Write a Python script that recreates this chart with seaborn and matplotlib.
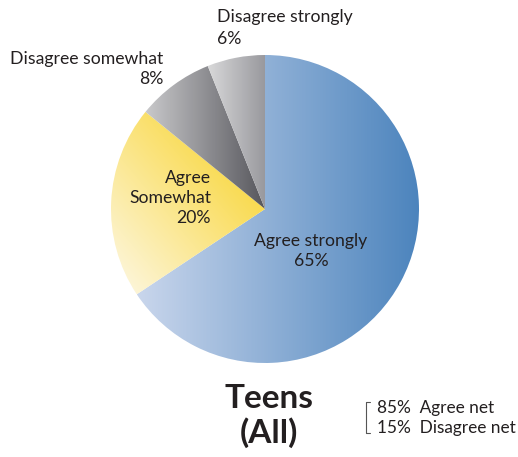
import numpy as np
import seaborn as sns
import matplotlib.pyplot as plt
from matplotlib.colors import LinearSegmentedColormap

# Data
labels = ['Agree strongly', 'Agree\nSomewhat', 'Disagree somewhat', 'Disagree strongly']
values = [65, 20, 8, 6]
net_values = [85, 15]
net_labels = ['Agree net', 'Disagree net']
title = 'Teens\n(All)'

# gradient colours per slice (light -> dark)
grad_start = ['#c9d6ec', '#fdf8e6', '#c9c9cb', '#d8d8d9']
grad_end = ['#4c84bd', '#f9d843', '#57575d', '#98989d']

sns.set_theme(style='white')
plt.rcParams['font.family'] = ['Lato', 'DejaVu Sans']
text_color = '#231f20'

fig = plt.figure(figsize=(5.18, 4.57), dpi=100)
ax = fig.add_axes([0, 0, 1, 1])

wedges, _ = ax.pie(values, startangle=90, counterclock=False,
                   center=(265, 248), radius=154, frame=True)

# fill each wedge with a gradient clipped to its shape
for i, w in enumerate(wedges):
    w.set_facecolor('none')
    w.set_edgecolor('none')
    bb = w.get_path().get_extents()
    xx, yy = np.meshgrid(np.linspace(0, 1, 200), np.linspace(0, 1, 200))
    if i == 1:
        grad = np.clip((xx + yy) / 1.6, 0, 1)  # diagonal for the yellow slice
    else:
        grad = xx
    cmap = LinearSegmentedColormap.from_list('g%d' % i, [grad_start[i], grad_end[i]])
    im = ax.imshow(grad, cmap=cmap, extent=(bb.x0, bb.x1, bb.y0, bb.y1),
                   origin='lower', aspect='auto', interpolation='bilinear')
    im.set_clip_path(w)

ax.set_xlim(0, 518)
ax.set_ylim(0, 457)
ax.axis('off')

fs = 12.7
# slice labels
ax.text(217, 440, labels[3], ha='left', va='center', fontsize=fs, color=text_color)
ax.text(217, 418, f'{values[3]}%', ha='left', va='center', fontsize=fs, color=text_color)
ax.text(163, 398, labels[2], ha='right', va='center', fontsize=fs, color=text_color)
ax.text(163, 378, f'{values[2]}%', ha='right', va='center', fontsize=fs, color=text_color)
ax.text(211, 259, labels[1] + f'\n{values[1]}%', ha='right', va='center',
        fontsize=fs, color=text_color, linespacing=1.3)
ax.text(311, 206, labels[0] + f'\n{values[0]}%', ha='center', va='center',
        fontsize=fs, color=text_color, linespacing=1.3)

# title
ax.text(269, 41, title, ha='center', va='center', fontsize=24, fontweight='bold',
        color=text_color, linespacing=1.15)

# net bracket
ax.plot([370, 366, 366, 370], [55, 55, 24, 24], color='#555555', lw=0.8)
ax.text(377, 49, f'{net_values[0]}%  {net_labels[0]}', ha='left', va='center',
        fontsize=12.4, color=text_color)
ax.text(377, 29, f'{net_values[1]}%  {net_labels[1]}', ha='left', va='center',
        fontsize=12.4, color=text_color)

plt.savefig('out.png', dpi=100)
